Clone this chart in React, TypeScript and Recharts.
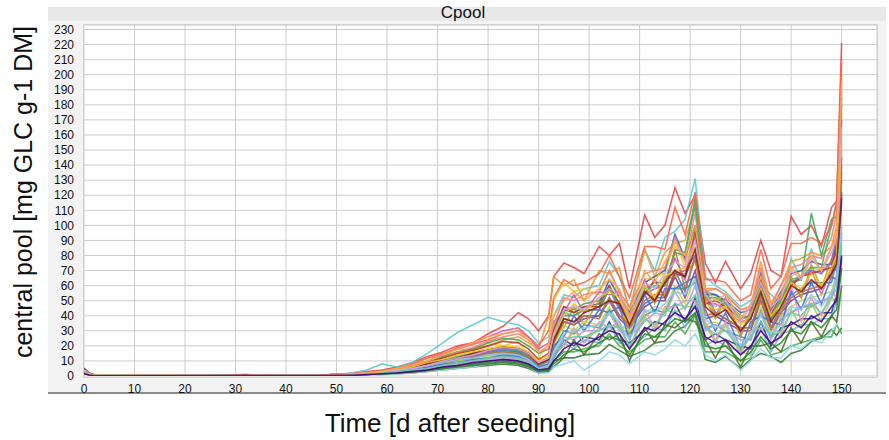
import React from 'react';
import { LineChart, Line, XAxis, YAxis, CartesianGrid } from 'recharts';

const days = [0, 1, 2, 4, 15, 28, 32, 36, 45, 50, 53, 56, 59, 62, 65, 68, 71, 74, 77, 80, 83, 86, 88, 90, 92, 93, 95, 97, 99, 102, 104, 106, 108, 111, 113, 115, 117, 119, 121, 123, 125, 127, 130, 132, 134, 136, 138, 140, 142, 144, 146, 148, 149, 150];

const run01 = [4, 1.6, 0.6, 0.3, 0.3, 0.5, 0.8, 0.4, 0.5, 1, 2, 3, 4, 6, 9, 13, 16, 20, 22, 28, 33, 42, 38, 30, 40, 66, 75, 72, 68, 86, 80, 88, 58, 107, 92, 100, 125, 108, 120, 75, 62, 76, 58, 68, 90, 70, 66, 106, 94, 100, 86, 112, 116, 221];
const run02 = [3, 1.2, 0.5, 0.3, 0.2, 0.4, 0.6, 0.5, 0.4, 0.8, 2, 4, 8, 6, 9, 15, 22, 29, 34, 39, 36, 34, 30, 22, 26, 40, 54, 52, 58, 60, 76, 66, 44, 84, 70, 92, 96, 104, 131, 66, 60, 56, 46, 50, 62, 54, 48, 78, 64, 84, 68, 86, 92, 160];
const run03 = [2.5, 1, 0.4, 0.3, 0.3, 0.6, 1, 0.5, 0.5, 1, 1.5, 2, 3, 4, 6, 9, 12, 15, 18, 20, 24, 26, 22, 18, 40, 66, 60, 64, 50, 70, 68, 72, 42, 84, 66, 82, 88, 90, 112, 58, 58, 54, 44, 46, 76, 48, 60, 76, 78, 82, 80, 86, 100, 200];
const run04 = [2, 0.9, 0.4, 0.2, 0.2, 0.3, 0.5, 0.3, 0.4, 0.7, 1, 2, 3, 5, 7, 12, 13, 18, 17, 22, 20, 23, 14, 12, 22, 50, 62, 56, 58, 54, 70, 52, 44, 64, 66, 68, 90, 72, 98, 50, 52, 46, 38, 40, 64, 42, 54, 66, 70, 72, 70, 76, 92, 175];
const run05 = [3.5, 1.4, 0.5, 0.3, 0.3, 0.5, 0.7, 0.4, 0.5, 0.9, 1, 2, 3, 4, 6, 9, 13, 16, 18, 22, 25, 24, 20, 15, 18, 32, 46, 44, 48, 50, 60, 46, 40, 58, 62, 62, 82, 80, 118, 56, 54, 48, 40, 38, 60, 36, 50, 62, 64, 108, 80, 104, 106, 185];
const run06 = [4.5, 1.8, 0.7, 0.3, 0.3, 0.4, 0.6, 0.4, 0.5, 0.8, 1, 1.5, 2, 3, 5, 7, 9, 11, 13, 15, 18, 16, 14, 8, 12, 28, 44, 42, 46, 48, 64, 52, 42, 62, 66, 70, 94, 78, 100, 54, 54, 50, 42, 44, 68, 44, 56, 68, 70, 76, 74, 74, 88, 122];
const run07 = [5.2, 2, 0.8, 0.4, 0.3, 0.5, 0.9, 0.5, 0.5, 1, 1, 1.5, 2, 3, 4, 6, 8, 10, 12, 14, 15, 14, 12, 6, 10, 22, 36, 34, 38, 40, 50, 38, 32, 46, 50, 50, 66, 52, 70, 38, 40, 36, 30, 30, 50, 30, 42, 50, 54, 56, 58, 68, 84, 130];
const run08 = [2.8, 1.1, 0.5, 0.3, 0.2, 0.4, 0.6, 0.4, 0.4, 0.9, 1.5, 2, 3, 4, 7, 10, 14, 19, 22, 26, 30, 32, 26, 18, 22, 36, 42, 54, 42, 56, 54, 56, 32, 64, 50, 66, 68, 70, 80, 54, 40, 52, 28, 44, 50, 44, 40, 64, 52, 70, 54, 72, 70, 140];
const run09 = [3.2, 1.3, 0.5, 0.3, 0.3, 0.5, 0.7, 0.4, 0.5, 0.9, 1, 2, 3, 4, 5, 7, 9, 11, 13, 15, 16, 15, 12, 6, 8, 18, 30, 28, 34, 32, 44, 32, 28, 40, 44, 42, 58, 58, 62, 32, 34, 30, 26, 24, 44, 26, 38, 42, 46, 46, 50, 52, 64, 95];
const run10 = [1.8, 0.8, 0.4, 0.2, 0.2, 0.3, 0.5, 0.3, 0.4, 0.6, 1, 1.5, 2, 3, 4, 5, 7, 8, 10, 12, 13, 12, 10, 5, 6, 14, 20, 30, 22, 32, 30, 34, 18, 40, 30, 44, 42, 46, 46, 34, 22, 34, 14, 28, 30, 30, 26, 44, 32, 48, 36, 52, 48, 85];
const run11 = [2.2, 1, 0.4, 0.2, 0.2, 0.3, 0.4, 0.3, 0.3, 0.5, 0.5, 1, 1, 1.5, 2, 3, 4, 5, 6, 7, 8, 7, 5, 2, 3, 6, 12, 12, 14, 15, 21, 17, 13, 17, 22, 23, 30, 33, 41, 11, 9, 13, 5, 11, 15, 13, 9, 15, 17, 23, 25, 31, 27, 32];
const run12 = [2.6, 1.1, 0.5, 0.3, 0.2, 0.4, 0.5, 0.3, 0.4, 0.6, 0.5, 1, 1.5, 2, 3, 4, 5, 6, 7, 8, 10, 9, 7, 3, 4, 10, 16, 16, 18, 20, 28, 20, 16, 24, 26, 26, 36, 28, 40, 16, 16, 16, 10, 12, 24, 14, 16, 20, 22, 24, 26, 26, 34, 28];
const run13 = [3.8, 1.5, 0.6, 0.3, 0.3, 0.5, 0.8, 0.4, 0.5, 1, 1, 2, 3, 4, 6, 9, 12, 16, 19, 23, 26, 28, 24, 16, 18, 34, 52, 50, 54, 56, 70, 56, 46, 68, 70, 72, 92, 76, 108, 56, 58, 54, 44, 46, 72, 46, 60, 72, 74, 80, 78, 92, 108, 190];
const run14 = [4.2, 1.7, 0.6, 0.3, 0.3, 0.4, 0.7, 0.4, 0.5, 0.8, 1, 1.5, 2.5, 3, 5, 7, 10, 12, 14, 16, 17, 16, 13, 7, 10, 24, 38, 36, 40, 40, 52, 40, 34, 48, 52, 52, 70, 56, 80, 58, 42, 38, 32, 32, 54, 32, 46, 54, 58, 62, 62, 62, 76, 115];
const run15 = [2.4, 1, 0.4, 0.3, 0.3, 0.5, 0.6, 0.4, 0.4, 0.8, 1, 2, 3, 4, 6, 8, 10, 13, 15, 17, 19, 18, 15, 9, 12, 26, 32, 46, 34, 50, 48, 50, 28, 60, 48, 64, 66, 68, 76, 52, 38, 50, 26, 42, 48, 42, 40, 66, 52, 74, 58, 78, 76, 150];
const run16 = [4.8, 1.9, 0.7, 0.3, 0.3, 0.4, 0.6, 0.4, 0.4, 0.6, 0.5, 1, 1.5, 2, 3, 4, 6, 7, 8, 10, 11, 10, 8, 4, 6, 12, 24, 20, 26, 24, 36, 24, 22, 30, 36, 34, 48, 36, 52, 24, 28, 24, 20, 18, 36, 20, 32, 34, 38, 38, 42, 42, 54, 78];
const run17 = [3, 1.2, 0.5, 0.3, 0.3, 0.5, 0.8, 0.5, 0.5, 0.9, 1, 2, 2.5, 3.5, 5, 7, 9, 12, 14, 16, 18, 17, 14, 8, 11, 24, 40, 40, 44, 44, 58, 44, 38, 54, 58, 60, 78, 64, 92, 48, 48, 44, 36, 38, 60, 38, 52, 62, 66, 70, 68, 76, 94, 170];
const run18 = [1.6, 0.7, 0.3, 0.2, 0.2, 0.3, 0.4, 0.3, 0.3, 0.5, 0.5, 1, 1, 1.5, 2, 3, 4, 5, 6, 8, 9, 8, 6, 2, 2, 6, 8, 10, 4, 10, 16, 14, 8, 16, 14, 18, 24, 20, 28, 14, 10, 14, 4, 10, 18, 12, 12, 20, 18, 24, 22, 30, 34, 55];
const run19 = [3.4, 1.3, 0.5, 0.3, 0.3, 0.5, 0.7, 0.4, 0.5, 0.9, 1, 2, 3, 4, 6, 9, 12, 15, 17, 20, 23, 22, 18, 11, 15, 30, 46, 42, 46, 46, 60, 48, 40, 54, 64, 52, 68, 66, 96, 48, 50, 46, 38, 40, 64, 40, 54, 60, 66, 68, 70, 72, 84, 145];
const run20 = [2.1, 0.9, 0.4, 0.2, 0.2, 0.3, 0.5, 0.3, 0.4, 0.7, 1, 1.5, 2, 3, 4, 6, 8, 10, 11, 13, 14, 13, 11, 6, 9, 20, 34, 30, 36, 34, 46, 34, 30, 42, 46, 44, 60, 48, 66, 34, 36, 32, 40, 26, 46, 28, 40, 46, 50, 52, 54, 56, 68, 105];
const run21 = [2.9, 1.2, 0.5, 0.3, 0.2, 0.4, 0.6, 0.4, 0.4, 0.7, 1, 1.5, 2, 3, 4, 6, 7, 9, 10, 12, 13, 12, 10, 5, 7, 16, 20, 32, 22, 36, 32, 36, 18, 44, 32, 46, 46, 50, 50, 36, 24, 36, 16, 30, 32, 32, 28, 60, 36, 52, 40, 56, 52, 92];
const run22 = [3.6, 1.4, 0.6, 0.3, 0.3, 0.5, 0.7, 0.5, 0.5, 0.9, 1, 2, 3, 4, 6, 8, 11, 13, 15, 17, 18, 17, 14, 8, 12, 28, 42, 40, 44, 44, 58, 46, 38, 56, 60, 60, 84, 82, 114, 52, 52, 48, 38, 40, 62, 38, 52, 64, 66, 72, 72, 100, 116, 180];
const run23 = [4.4, 1.7, 0.6, 0.3, 0.3, 0.4, 0.6, 0.4, 0.4, 0.8, 1, 1.5, 2, 3, 4, 6, 8, 9, 11, 12, 14, 13, 11, 6, 8, 20, 26, 40, 30, 44, 42, 46, 24, 54, 42, 58, 58, 62, 66, 44, 30, 42, 18, 36, 40, 36, 34, 56, 44, 62, 48, 66, 64, 120];
const run24 = [2.3, 1, 0.4, 0.3, 0.2, 0.4, 0.5, 0.3, 0.4, 0.7, 1, 2, 2.5, 3.5, 5, 7, 9, 11, 13, 15, 16, 15, 13, 8, 10, 22, 36, 34, 40, 38, 52, 40, 34, 50, 54, 54, 84, 58, 78, 40, 42, 38, 32, 32, 52, 32, 44, 52, 56, 58, 60, 66, 80, 135];
const run25 = [1.9, 0.8, 0.4, 0.2, 0.2, 0.3, 0.4, 0.3, 0.3, 0.5, 0.5, 1, 1.5, 2, 3, 4, 5, 6, 7, 9, 10, 9, 7, 3, 5, 12, 22, 18, 24, 22, 34, 22, 20, 26, 32, 30, 44, 32, 48, 20, 24, 20, 16, 14, 32, 16, 28, 30, 34, 34, 38, 38, 50, 70];
const run26 = [3.9, 1.5, 0.6, 0.3, 0.3, 0.5, 0.8, 0.5, 0.5, 1.1, 1.5, 2.5, 3.5, 5, 8, 12, 15, 18, 21, 24, 28, 30, 26, 20, 30, 52, 64, 60, 62, 68, 80, 66, 52, 86, 86, 84, 112, 94, 122, 64, 64, 62, 50, 54, 84, 58, 66, 88, 88, 92, 88, 100, 114, 210];
const run27 = [2.7, 1.1, 0.5, 0.3, 0.2, 0.4, 0.6, 0.4, 0.4, 0.7, 1, 1.5, 2, 3, 4, 5, 7, 8, 9, 11, 12, 11, 9, 4, 6, 14, 26, 24, 30, 30, 42, 30, 26, 36, 42, 40, 56, 44, 60, 30, 34, 30, 24, 24, 42, 24, 38, 42, 46, 48, 50, 52, 66, 100];
const run28 = [1.5, 0.7, 0.3, 0.2, 0.2, 0.3, 0.4, 0.3, 0.3, 0.5, 0.5, 1, 1.5, 2, 2.5, 3.5, 5, 6, 7, 8, 9, 8, 6, 3, 4, 10, 12, 24, 14, 28, 24, 28, 10, 32, 22, 34, 32, 38, 36, 24, 12, 24, 6, 20, 20, 22, 16, 32, 22, 36, 26, 40, 36, 60];
const run29 = [3, 1.2, 0.5, 0.3, 0.3, 0.5, 0.7, 0.4, 0.5, 0.8, 1, 2, 3, 4, 6, 9, 11, 14, 16, 18, 20, 19, 16, 10, 14, 26, 40, 48, 42, 52, 56, 52, 36, 60, 52, 66, 70, 72, 86, 48, 44, 46, 34, 40, 58, 40, 48, 62, 58, 68, 60, 72, 80, 155];
const run30 = [2.5, 1, 0.4, 0.2, 0.2, 0.4, 0.5, 0.3, 0.4, 0.7, 1, 1.5, 2.5, 3, 5, 8, 10, 12, 15, 17, 19, 18, 15, 8, 11, 24, 38, 36, 42, 46, 50, 48, 34, 56, 50, 62, 70, 66, 84, 46, 40, 44, 30, 38, 56, 36, 46, 60, 56, 64, 58, 68, 74, 118];
const run31 = [3.3, 1.3, 0.5, 0.3, 0.3, 0.4, 0.6, 0.4, 0.4, 0.8, 1, 2, 3, 4, 5, 7, 9, 11, 12, 14, 15, 14, 11, 5, 7, 16, 28, 30, 32, 34, 42, 36, 24, 44, 42, 48, 56, 54, 64, 38, 32, 34, 20, 28, 40, 28, 34, 46, 44, 54, 46, 56, 62, 98];
const run32 = [2, 0.9, 0.4, 0.2, 0.2, 0.3, 0.4, 0.3, 0.3, 0.6, 0.5, 1, 1.5, 2, 3, 4, 5, 7, 8, 9, 10, 9, 7, 3, 4, 8, 14, 18, 16, 22, 26, 24, 14, 28, 26, 32, 38, 36, 42, 20, 18, 20, 10, 16, 26, 18, 22, 30, 28, 36, 32, 40, 44, 72];
const run33 = [3.7, 1.4, 0.6, 0.3, 0.3, 0.5, 0.7, 0.4, 0.5, 0.9, 1, 2, 2.5, 3.5, 5, 7, 10, 12, 14, 17, 19, 18, 15, 9, 12, 28, 44, 46, 44, 52, 58, 54, 38, 62, 58, 68, 76, 72, 90, 54, 46, 50, 36, 46, 62, 46, 52, 70, 64, 78, 70, 82, 92, 165];
const run34 = [2.4, 1, 0.4, 0.3, 0.2, 0.4, 0.5, 0.3, 0.4, 0.6, 1, 1.5, 2, 3, 4, 5, 7, 9, 10, 12, 13, 12, 9, 4, 6, 14, 24, 26, 26, 30, 34, 32, 20, 38, 34, 42, 48, 46, 54, 32, 28, 30, 18, 26, 36, 26, 30, 42, 40, 48, 42, 52, 58, 88];
const run35 = [4, 1.6, 0.6, 0.3, 0.3, 0.5, 0.8, 0.5, 0.5, 1, 1.5, 2, 3, 5, 7, 10, 14, 18, 22, 26, 28, 30, 24, 16, 20, 40, 50, 56, 50, 58, 64, 58, 40, 70, 62, 76, 86, 80, 100, 58, 50, 54, 38, 48, 66, 48, 54, 72, 66, 80, 70, 86, 94, 195];
const run36 = [1.7, 0.7, 0.3, 0.2, 0.2, 0.3, 0.4, 0.3, 0.3, 0.5, 0.5, 1, 1.5, 2, 3, 4, 6, 7, 9, 10, 11, 10, 8, 4, 5, 10, 18, 22, 20, 26, 30, 28, 18, 32, 30, 36, 42, 38, 46, 26, 22, 24, 14, 20, 30, 22, 26, 36, 32, 40, 36, 46, 50, 80];

const runs = [run01, run02, run03, run04, run05, run06, run07, run08, run09, run10, run11, run12, run13, run14, run15, run16, run17, run18, run19, run20, run21, run22, run23, run24, run25, run26, run27, run28, run29, run30, run31, run32, run33, run34, run35, run36];

const colors = ['#e8474b', '#5cc8d0', '#f39a2a', '#e6d32a', '#3aa655', '#2f5fb3', '#7b3fa0', '#d65aa8', '#2a9d8f', '#9bd34a', '#2e7d32', '#4caf50', '#f08080', '#4682b4', '#b5a020', '#283593', '#9c5ccf', '#8fd8e8', '#c0392b', '#c6d84a', '#f48fb1', '#3cb371', '#4169e1', '#c0703a', '#7fb2e5', '#ff6347', '#b39ddb', '#556b2f', '#f1c40f', '#8b1a1a', '#87ceeb', '#228b22', '#dda0dd', '#66cdaa', '#ffa54f', '#4b0082'];

const xTicks = [0, 10, 20, 30, 40, 50, 60, 70, 80, 90, 100, 110, 120, 130, 140, 150];
const yTicks = [0, 10, 20, 30, 40, 50, 60, 70, 80, 90, 100, 110, 120, 130, 140, 150, 160, 170, 180, 190, 200, 210, 220, 230];

const chartTitle = 'Cpool';
const xTitle = 'Time [d after seeding]';
const yTitle = 'central pool [mg GLC g-1 DM]';

const data = days.map((d, i) => {
  const row: Record<string, number> = { day: d };
  runs.forEach((r, k) => {
    row['s' + k] = r[i];
  });
  return row;
});

const FONT = '"Liberation Sans", Arial, Helvetica, sans-serif';

export default function App() {
  return (
    <div style={{ position: 'absolute', left: 0, top: 0, width: 889, height: 440, fontFamily: FONT, background: '#fff' }}>
      <div style={{ position: 'absolute', left: 48, top: 7, width: 838, height: 386, background: '#f3f3f3' }} />
      <div style={{ position: 'absolute', left: 48, top: 7, width: 838, height: 14, background: '#e8e8e8' }} />
      <div style={{ position: 'absolute', left: 48, top: 392, width: 838, height: 2, background: '#8a8a8a' }} />
      <div style={{ position: 'absolute', left: 83, top: 24, width: 793, height: 352, background: '#fff', border: '1px solid #d4d4d4' }} />
      <div style={{ position: 'absolute', left: 363, top: 3, width: 200, textAlign: 'center', fontSize: 17, lineHeight: '19px', color: '#111' }}>{chartTitle}</div>
      <div style={{ position: 'absolute', left: 250, top: 408, width: 400, textAlign: 'center', fontSize: 26, lineHeight: '30px', color: '#111' }}>{xTitle}</div>
      <div style={{ position: 'absolute', left: 23 - 200, top: 192 - 15, width: 400, height: 30, textAlign: 'center', fontSize: 25, lineHeight: '30px', color: '#111', transform: 'rotate(-90deg)', transformOrigin: '200px 15px', whiteSpace: 'nowrap' }}>{yTitle}</div>
      <div style={{ position: 'absolute', left: 0, top: 0 }}>
        <LineChart width={889} height={440} data={data} margin={{ top: 25, right: 12, bottom: 44, left: 44 }}>
          <CartesianGrid
            horizontal={{ stroke: '#c8c8c8', strokeDasharray: '1 2' } as any}
            vertical={{ stroke: '#efefef' } as any}
          />
          <XAxis
            type="number"
            dataKey="day"
            domain={[0, 157]}
            ticks={xTicks}
            interval={0}
            height={20}
            axisLine={false}
            tickLine={false}
            tick={{ fontSize: 12, fill: '#111', fontFamily: FONT }}
            allowDataOverflow
          />
          <YAxis
            type="number"
            domain={[0, 233]}
            ticks={yTicks}
            interval={0}
            width={40}
            axisLine={false}
            tickLine={false}
            tickMargin={4}
            tick={{ fontSize: 12, fill: '#111', fontFamily: FONT }}
            allowDataOverflow
          />
          {runs.map((_, k) => (
            <Line
              key={k}
              type="linear"
              dataKey={'s' + k}
              stroke={colors[k]}
              strokeWidth={1.6}
              strokeOpacity={0.88}
              dot={false}
              activeDot={false}
              isAnimationActive={false}
            />
          ))}
        </LineChart>
      </div>
    </div>
  );
}
